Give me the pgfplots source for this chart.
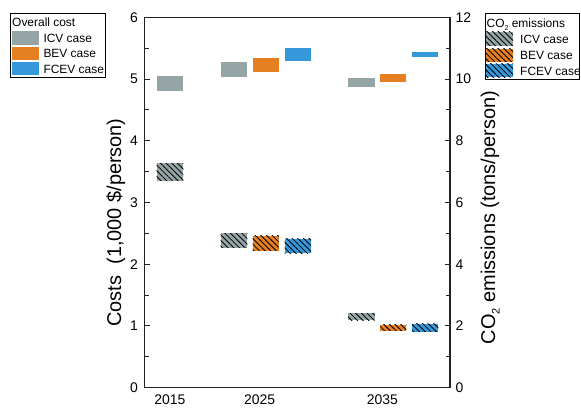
\documentclass[border=0pt]{standalone}
\usepackage{fontspec}
\setmainfont{Liberation Sans}
\usepackage{pgfplots}
\pgfplotsset{compat=1.18}
\usetikzlibrary{patterns.meta}
\definecolor{icv}{HTML}{95A5A6}
\definecolor{bev}{HTML}{E67E22}
\definecolor{fcev}{HTML}{3498DB}
\definecolor{axc}{HTML}{222222}
\tikzset{hatch/.style={postaction={pattern={Lines[angle=-45,distance=4bp,line width=0.85bp]},pattern color=black}}}
\pgfplotsset{common/.style={
  at={(144.5bp,22.3bp)}, anchor=south west,
  scale only axis, width=305.5bp, height=370.4bp,
  xmin=0, xmax=10, ymin=0,
  tick align=inside,
  major tick length=5.5bp, minor tick length=4.5bp,
  tick style={axc, line width=1bp},
  axis line style={axc, line width=1.3bp},
  ticklabel style={font=\fontsize{14}{16}\selectfont},
  /pgf/number format/assume math mode=true,
}}
\begin{document}
\begin{tikzpicture}
\useasboundingbox (0,0) rectangle (581bp,410bp);
\begin{axis}[common, ymax=6, ytick={0,...,6}, minor y tick num=1, ytick pos=left,
  xtick={0.83,3.77,7.79}, xticklabels={2015,2025,2035}, xtick pos=bottom, xtick style={draw=none},
  yticklabel style={xshift=-3bp}, xticklabel style={yshift=-3.5bp}]
% Overall cost (1,000 $/person)
\addplot[fill=icv, draw=none] coordinates {(0.40,4.80) (1.27,4.80) (1.27,5.05) (0.40,5.05)} -- cycle;
\addplot[fill=icv, draw=none] coordinates {(2.49,5.04) (3.37,5.04) (3.37,5.28) (2.49,5.28)} -- cycle;
\addplot[fill=bev, draw=none] coordinates {(3.54,5.11) (4.40,5.11) (4.40,5.34) (3.54,5.34)} -- cycle;
\addplot[fill=fcev, draw=none] coordinates {(4.59,5.29) (5.45,5.29) (5.45,5.51) (4.59,5.51)} -- cycle;
\addplot[fill=icv, draw=none] coordinates {(6.66,4.87) (7.53,4.87) (7.53,5.02) (6.66,5.02)} -- cycle;
\addplot[fill=bev, draw=none] coordinates {(7.71,4.95) (8.57,4.95) (8.57,5.08) (7.71,5.08)} -- cycle;
\addplot[fill=fcev, draw=none] coordinates {(8.76,5.36) (9.62,5.36) (9.62,5.44) (8.76,5.44)} -- cycle;
\end{axis}
\begin{axis}[common, ymax=12, ytick={0,2,...,12}, minor y tick num=1, ytick pos=right,
  hide x axis, yticklabel style={xshift=2bp}]
% CO2 emissions (tons/person)
\addplot[fill=icv, draw=none, hatch] coordinates {(0.40,6.70) (1.27,6.70) (1.27,7.27) (0.40,7.27)} -- cycle;
\addplot[fill=icv, draw=none, hatch] coordinates {(2.49,4.54) (3.37,4.54) (3.37,5.01) (2.49,5.01)} -- cycle;
\addplot[fill=bev, draw=none, hatch] coordinates {(3.54,4.43) (4.40,4.43) (4.40,4.92) (3.54,4.92)} -- cycle;
\addplot[fill=fcev, draw=none, hatch] coordinates {(4.59,4.36) (5.45,4.36) (5.45,4.83) (4.59,4.83)} -- cycle;
\addplot[fill=icv, draw=none, hatch] coordinates {(6.66,2.19) (7.53,2.19) (7.53,2.41) (6.66,2.41)} -- cycle;
\addplot[fill=bev, draw=none, hatch] coordinates {(7.71,1.85) (8.57,1.85) (8.57,2.04) (7.71,2.04)} -- cycle;
\addplot[fill=fcev, draw=none, hatch] coordinates {(8.76,1.81) (9.62,1.81) (9.62,2.07) (8.76,2.07)} -- cycle;
\end{axis}
% axis labels
\node[rotate=90, anchor=base, inner sep=0, font=\fontsize{20}{24}\selectfont] at (121bp,187.5bp) {Costs\ \ (1,000 \$/person)};
\node[rotate=90, anchor=base, inner sep=0, font=\fontsize{20}{24}\selectfont] at (495bp,192.5bp) {CO\raisebox{-0.45ex}{\fontsize{11}{12}\selectfont 2} emissions (tons/person)};
% left legend
\begin{scope}[font=\fontsize{12}{14}\selectfont]
\draw[line width=0.8bp] (10bp,333bp) rectangle (105bp,397bp);
\node[anchor=base west, inner sep=0] at (12bp,383.5bp) {Overall cost};
\fill[icv] (12bp,365bp) rectangle (39bp,379bp);
\fill[bev] (12bp,350bp) rectangle (39bp,363.3bp);
\fill[fcev] (12bp,334.7bp) rectangle (39bp,348bp);
\node[anchor=base west, inner sep=0] at (43.3bp,367.3bp) {ICV case};
\node[anchor=base west, inner sep=0] at (43.3bp,352bp) {BEV case};
\node[anchor=base west, inner sep=0] at (43.3bp,336.7bp) {FCEV case};
% right legend
\draw[line width=0.8bp] (485bp,330.7bp) rectangle (579bp,396.7bp);
\node[anchor=base west, inner sep=0] at (486.5bp,382.4bp) {CO\raisebox{-0.45ex}{\fontsize{7}{8}\selectfont 2} emissions};
\fill[icv, hatch] (486bp,364bp) rectangle (513bp,378bp);
\fill[bev, hatch] (486bp,348bp) rectangle (513bp,361.3bp);
\fill[fcev, hatch] (486bp,332.7bp) rectangle (513bp,346bp);
\node[anchor=base west, inner sep=0] at (520bp,366.6bp) {ICV case};
\node[anchor=base west, inner sep=0] at (520bp,350.3bp) {BEV case};
\node[anchor=base west, inner sep=0] at (520bp,334.9bp) {FCEV case};
\end{scope}
\end{tikzpicture}
\end{document}
